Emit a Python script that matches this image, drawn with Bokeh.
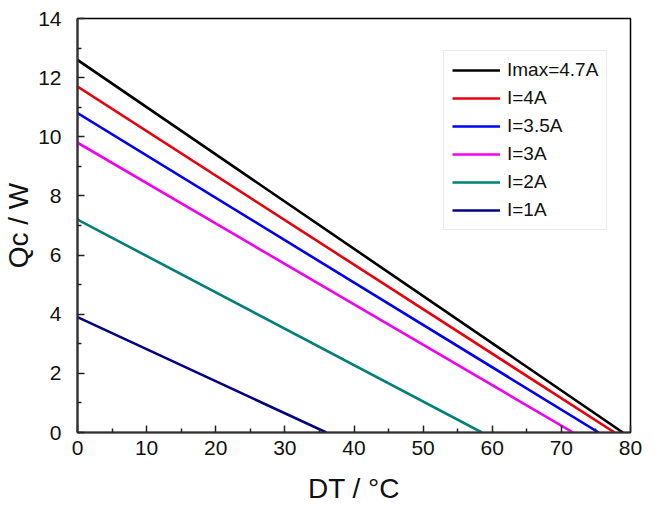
from bokeh.plotting import figure
from bokeh.models import ColumnDataSource, Legend, LegendItem, Range1d, FixedTicker
from bokeh.embed import file_html
from bokeh.resources import INLINE

# Data
labels = ["Imax=4.7A", "I=4A", "I=3.5A", "I=3A", "I=2A", "I=1A"]
qc_max = [12.6, 11.7, 10.8, 9.8, 7.2, 3.9]      # Qc at DT = 0
dt_max = [78.9, 77.7, 75.4, 71.7, 58.5, 36.0]   # DT at Qc = 0
colors = ["#000000", "#e8000b", "#0000f0", "#f000f0", "#008078", "#000080"]

x_ticks = [0, 10, 20, 30, 40, 50, 60, 70, 80]
y_ticks = [0, 2, 4, 6, 8, 10, 12, 14]

FONT = "Liberation Sans"

p = figure(width=649, height=507, output_backend="svg", toolbar_location=None,
           x_range=Range1d(0, 80), y_range=Range1d(0, 14),
           min_border_left=77, min_border_right=19, min_border_top=18, min_border_bottom=75)
p.grid.visible = False
p.background_fill_color = "white"
p.border_fill_color = "white"
p.outline_line_color = "black"
p.outline_line_width = 1.5

items = []
for lab, q, d, c in zip(labels, qc_max, dt_max, colors):
    src = ColumnDataSource(dict(x=[0, d], y=[q, 0]))
    r = p.line("x", "y", source=src, line_color=c, line_width=2.6)
    items.append(LegendItem(label=lab, renderers=[r]))

for ax, ticks in ((p.xaxis[0], x_ticks), (p.yaxis[0], y_ticks)):
    ax.ticker = FixedTicker(ticks=ticks,
                            minor_ticks=[t + (ticks[1] - ticks[0]) / 2 for t in ticks[:-1]])
    ax.major_tick_in = 7
    ax.major_tick_out = 0
    ax.minor_tick_in = 4
    ax.minor_tick_out = 0
    ax.axis_line_width = 2.2
    ax.axis_line_color = "#333333"
    ax.major_tick_line_color = "#222222"
    ax.minor_tick_line_color = "#222222"
    ax.major_tick_line_width = 1.5
    ax.minor_tick_line_width = 1.5
    ax.major_label_text_font = FONT
    ax.major_label_text_font_size = "21px"
    ax.major_label_text_color = "#111111"
    ax.axis_label_text_font = FONT
    ax.axis_label_text_font_size = "28px"
    ax.axis_label_text_font_style = "normal"
    ax.axis_label_text_color = "#111111"

p.xaxis.axis_label = "DT / °C"
p.yaxis.axis_label = "Qc / W"
p.xaxis.major_label_standoff = 8
p.yaxis.major_label_standoff = 16
p.xaxis.axis_label_standoff = 15
p.yaxis.axis_label_standoff = 1

legend = Legend(items=items, location=(366, 202))
legend.label_text_font = FONT
legend.label_text_font_size = "19px"
legend.label_text_color = "#111111"
legend.glyph_width = 48
legend.glyph_height = 22
legend.label_height = 22
legend.spacing = 6
legend.padding = 8
legend.margin = 0
legend.label_standoff = 7
legend.border_line_color = "#d8d8d8"
legend.border_line_width = 1
legend.background_fill_alpha = 1.0
p.add_layout(legend, "center")

open("out.html", "w").write(file_html(p, INLINE))
